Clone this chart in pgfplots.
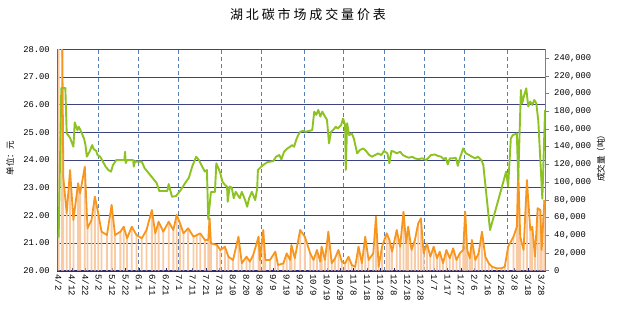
\documentclass[border=0pt]{standalone}
\usepackage{pgfplots}
\pgfplotsset{compat=1.18}
\usepackage{fontspec}
\setmainfont{Liberation Serif}
\newfontfamily\cjk{Noto Sans CJK SC}
\newfontfamily\cjkb[FakeBold=1.5]{Noto Sans CJK SC}
\newfontfamily\titlefont[LetterSpace=22]{Noto Sans CJK SC}
\newfontfamily\ticks{Liberation Mono}
\definecolor{pricegreen}{RGB}{140,195,35}
\definecolor{volorange}{RGB}{247,150,30}
\definecolor{peach}{RGB}{249,203,165}
\definecolor{gridnavy}{RGB}{62,66,128}
\definecolor{dashblue}{RGB}{88,128,178}
\definecolor{axnavy}{RGB}{40,40,120}

\pgfplotstableread{
d p
0 21.2
2 26.6
5 26.6
6 24.97
8.5 24.8
11 24.48
12 25.36
14 25.08
15 25.2
17 25.0
19 24.76
20 24.54
21 24.12
23 24.3
25 24.54
26 24.4
28 24.33
29 24.18
31 24.12
33 23.94
35 23.76
37 23.64
39 23.58
40.5 23.82
43 24.0
46 24.0
49 24.0
49.5 24.3
50 23.89
51 24.0
55.5 24.0
56 23.76
57 23.96
58 23.94
62 23.94
64 23.71
67 23.53
70 23.35
73 23.17
75 22.88
81 22.88
82 23.13
84.5 22.67
87.5 22.7
90 22.85
92 22.99
95 23.22
97 23.35
99.5 23.76
102.5 24.12
104.5 24.0
107 23.76
109 23.58
110.5 23.64
111.5 21.85
113.5 22.85
116.5 22.85
117.5 23.88
119 23.71
120.5 23.52
122 23.22
124 23.1
125.5 23.04
126 22.49
127.5 23.04
129 23.0
130.5 22.62
132 22.85
133.5 22.73
135 22.62
136.5 22.85
139 22.55
140.5 22.31
142 22.62
144 22.85
146.5 22.55
148 22.98
148.5 23.64
151 23.76
153 23.84
155.5 23.92
157.5 23.94
160 23.96
162 24.12
164.5 24.18
166 24.02
168 24.3
170 24.4
172.5 24.48
174 24.54
175.5 24.48
177 24.72
178.5 24.9
180 25.02
182 25.05
184 25.02
189 25.08
190.5 25.75
192 25.63
193.5 25.81
195 25.57
196.5 25.75
198.5 25.57
200 25.45
201.5 24.6
203 25.02
204.5 25.08
206.5 25.2
208 25.14
210.5 25.26
212 25.5
213.5 25.26
214 23.64
215 25.33
216.5 24.9
218.5 24.96
220 24.78
222.5 24.24
224.5 24.36
227 24.42
229 24.33
231.5 24.18
233.5 24.12
236 24.18
238 24.24
240.5 24.18
242.5 24.33
245 24.24
246.5 23.88
248 24.33
250 24.3
252 24.24
254.5 24.3
256.5 24.18
259 24.12
261 24.08
263.5 24.12
265.5 24.06
268 24.03
271 24.06
274 24.0
277.5 24.18
280.5 24.2
282.5 24.15
285 24.12
287 24.03
288.5 24.08
290 23.84
291.5 24.06
294 24.06
296 24.08
297.5 23.79
299 24.06
301.5 24.42
303.5 24.24
306 24.18
308 24.12
310.5 24.06
312.5 24.12
315 24.0
316.5 23.82
321.5 21.47
333.5 23.58
335 23.04
337 24.78
338.5 24.9
341.5 24.96
342.5 23.3
344.5 26.53
345.5 26.05
347 26.35
348.5 26.59
350 25.93
351.5 26.11
353 25.99
354.5 26.17
356 26.05
357.5 25.4
360.5 22.6
362.5 25.8
}\pricetable

\pgfplotstableread{
d v
0 300000
2.5 300000
3.5 105000
6 64800
8.5 113700
11 57250
14.5 98700
16 87400
19.5 117400
21.5 47900
24.5 57250
27 83600
29.5 64800
32 44000
36 40300
39.5 74200
42 40300
46 44000
48.5 49700
51 36600
54.5 49700
58 40300
62 36600
65.5 46000
69.5 68500
72 42200
74.5 55300
78 44000
82 55300
85.5 46000
88 62900
90.5 53500
93 42200
96.5 47900
100.5 38400
103 40300
105.5 42200
109 34700
111.5 34700
112.5 59200
113.5 30900
118 29000
120.5 23400
124 27100
126.5 15800
130 12100
134 38400
136.5 8400
140 15800
142.5 10200
145 17700
149 38400
150 12100
152.5 46000
154 12100
157.5 12100
161.5 21500
163.5 6400
167.5 8400
170 19600
172.5 12100
173.5 29000
176 14000
180 46000
183.5 38400
187.5 19600
190 12100
192.5 23400
195 10200
196 27100
198.5 12100
201 44000
203.5 8400
206 14000
208.5 23400
211 10200
213.5 8400
216 15800
218.5 6400
221 4500
223.5 27100
226 8400
228.5 38400
231 12100
234.5 19600
236.5 61000
238.5 4500
241 27100
244.5 42200
246.5 34700
248.5 21500
252 46000
254.5 27100
257 66600
259 30900
260.5 49700
263 23400
265.5 34700
268 53500
270 59200
272 19600
274.5 30900
277 15800
279.5 27100
282 14000
284 21500
286.5 8400
289 23400
291.5 14000
294 25300
296.5 12100
299 19600
301.5 23400
303 66600
304.5 23400
306.5 14000
308 34700
310.5 12100
313 19600
315.5 44000
318 15800
320.5 8400
323 4500
326.5 2700
330 2700
332.5 4500
335 27100
339 38400
341.5 49700
342.5 113700
344 38400
346.5 23400
349 102400
351.5 46000
353 49700
355 15800
357 70500
359 68500
360 23400
362 79800
}\voltable

\begin{document}
\begin{tikzpicture}
\path[use as bounding box] (0,0) rectangle (620pt,309pt);
\pgfplotsset{
  base/.style={
    at={(57.3pt,38.3pt)}, anchor=south west,
    scale only axis, width=488.4pt, height=221.4pt,
    xmin=-1, xmax=363,
  }
}
% axis 1: price scale, grid and labels
\begin{axis}[base,
  ymin=20, ymax=28,
  axis x line*=bottom, axis y line*=left,
  x axis line style={-, line width=1.7pt, color=axnavy},
  y axis line style={-, line width=1.2pt, color=axnavy},
  xtick={0,10,...,360},
  xticklabels={4/2,4/12,4/22,5/2,5/12,5/22,6/1,6/11,6/21,7/1,7/11,7/21,7/31,8/10,8/20,8/30,9/9,9/19,9/29,10/9,10/19,10/29,11/8,11/18,11/28,12/8,12/18,12/28,1/7,1/17,1/27,2/6,2/16,2/26,3/8,3/18,3/28},
  xticklabel style={rotate=-90, anchor=west, font=\ticks\fontsize{9}{9}\selectfont, xshift=0pt},
  xtick style={color=axnavy, line width=0.8pt},
  major tick length=3pt,
  xtick pos=bottom,
  ytick={20,21,...,28},
  ytick style={draw=none},
  yticklabel style={font=\ticks\fontsize{8.8}{9}\selectfont, xshift=-4pt,
    /pgf/number format/.cd, fixed, fixed zerofill, precision=2, assume math mode=true},
  ymajorgrids,
  y grid style={color=gridnavy, line width=0.9pt},
  extra x ticks={29.5,59.5,89.5,121,151.5,183.5,212,242.5,272.5,302.5,334.5},
  extra x tick labels={},
  extra x tick style={xmajorgrids=true, major tick length=0pt,
    x grid style={color=dashblue, line width=0.9pt, dash pattern=on 4pt off 3pt}},
]
\addplot[draw=none] coordinates {(0,20)};
\node[font=\cjkb\fontsize{8.5}{9}\selectfont, anchor=south] at (axis cs:16,28) {4月};
\node[font=\cjkb\fontsize{8.5}{9}\selectfont, anchor=south] at (axis cs:40.5,28) {5月};
\node[font=\cjkb\fontsize{8.5}{9}\selectfont, anchor=south] at (axis cs:73.4,28) {6月};
\node[font=\cjkb\fontsize{8.5}{9}\selectfont, anchor=south] at (axis cs:103.2,28) {7月};
\node[font=\cjkb\fontsize{8.5}{9}\selectfont, anchor=south] at (axis cs:137.4,28) {8月};
\node[font=\cjkb\fontsize{8.5}{9}\selectfont, anchor=south] at (axis cs:166.5,28) {9月};
\node[font=\cjkb\fontsize{8.5}{9}\selectfont, anchor=south] at (axis cs:196.3,28) {10月};
\node[font=\cjkb\fontsize{8.5}{9}\selectfont, anchor=south] at (axis cs:224.6,28) {11月};
\node[font=\cjkb\fontsize{8.5}{9}\selectfont, anchor=south] at (axis cs:254.4,28) {12月};
\node[font=\cjkb\fontsize{8.5}{9}\selectfont, anchor=south] at (axis cs:284.2,28) {1月};
\node[font=\cjkb\fontsize{8.5}{9}\selectfont, anchor=south] at (axis cs:316.3,28) {2月};
\node[font=\cjkb\fontsize{8.5}{9}\selectfont, anchor=south] at (axis cs:347.6,28) {3月};
\end{axis}
% axis 2: volume
\begin{axis}[base,
  ymin=0, ymax=250000,
  axis y line*=right, axis x line=none,
  y axis line style={-, line width=0.8pt, color=gray},
  ytick={0,20000,...,240000},
  scaled y ticks=false,
  ytick style={color=gray, line width=0.6pt},
  tick align=outside,
  major tick length=3pt,
  yticklabel style={font=\ticks\fontsize{8.8}{9}\selectfont, xshift=2pt,
    /pgf/number format/.cd, fixed, 1000 sep={,}, assume math mode=true},
]
\addplot[ybar, bar width=1.8pt, bar shift=0pt, fill=peach, draw=none] table[x=d,y=v] {\voltable};
\addplot[volorange, line width=1.8pt, no marks, line join=round] table[x=d,y=v] {\voltable};
\end{axis}
% axis 3: price line
\begin{axis}[base, ymin=20, ymax=28, hide axis]
\addplot[pricegreen, line width=1.9pt, no marks, line join=round] table[x=d,y=p] {\pricetable};
\end{axis}
\node[font=\titlefont\fontsize{13}{13}\selectfont] at (308pt,294pt) {湖北碳市场成交量价表};
\node[font=\cjk\fontsize{8.5}{9}\selectfont, rotate=90] at (10pt,151pt) {单位：元};
\node[font=\cjk\fontsize{8.5}{9}\selectfont, rotate=90] at (601pt,153pt) {成交量（吨）};
\end{tikzpicture}
\end{document}
